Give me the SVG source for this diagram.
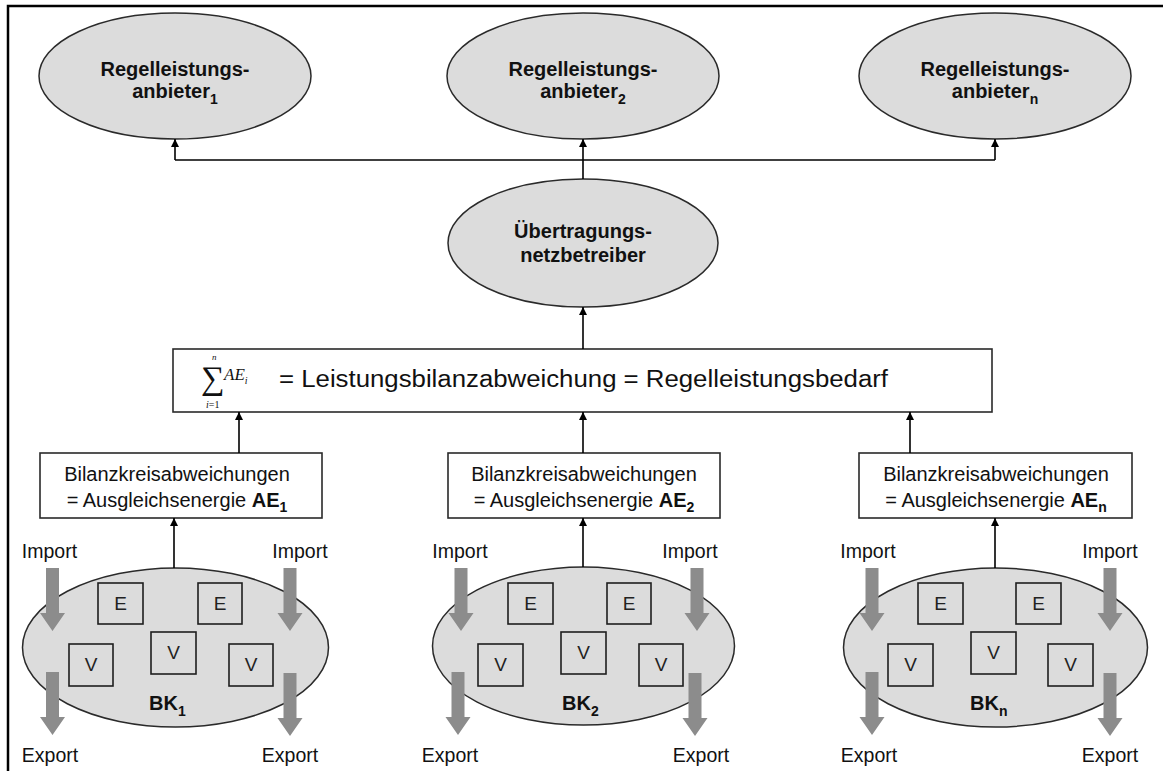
<svg xmlns="http://www.w3.org/2000/svg" xmlns:xlink="http://www.w3.org/1999/xlink" width="1163" height="771" viewBox="0 0 1163 771">
<style>
.ell{fill:#dcdcdc;stroke:#2a2a2a;stroke-width:1.5}
.box{fill:#fff;stroke:#2a2a2a;stroke-width:1.6}
.sq{fill:#dcdcdc;stroke:#1e1e1e;stroke-width:1.6}
.con{stroke:#000;stroke-width:1.6;fill:none}
.b{font-family:"Liberation Sans",Arial,sans-serif;font-weight:bold;font-size:20px;fill:#111;text-anchor:middle}
.r{font-family:"Liberation Sans",Arial,sans-serif;font-size:20px;fill:#111;text-anchor:middle}
.lbl{font-family:"Liberation Sans",Arial,sans-serif;font-size:19.5px;fill:#111;text-anchor:middle}
.sqt{font-family:"Liberation Sans",Arial,sans-serif;font-size:19px;fill:#222;text-anchor:middle}
.m{font-family:"Liberation Serif","Times New Roman",serif;fill:#111}
.ga{fill:#8c8c8c}
</style>
<defs>
<marker id="ah" viewBox="0 0 10 10" refX="10" refY="5" markerWidth="8" markerHeight="8" markerUnits="userSpaceOnUse" orient="auto">
<path d="M0,0 L10,5 L0,10 Z" fill="#000"/>
</marker>
<path id="garrow" d="M-6.5,0 H6.5 V45 H12.5 L0,63 L-12.5,45 H-6.5 Z"/>
</defs>
<rect x="8" y="6" width="1170" height="780" fill="none" stroke="#000" stroke-width="2.5"/>

<g id="rla1">
<ellipse class="ell" cx="175" cy="76" rx="136" ry="63"/>
<text class="b" x="175" y="76">Regelleistungs-</text>
<text class="b" x="175" y="98">anbieter<tspan font-size="14" dy="6">1</tspan></text>
</g>
<g id="rla2">
<ellipse class="ell" cx="583" cy="76" rx="136" ry="63"/>
<text class="b" x="583" y="76">Regelleistungs-</text>
<text class="b" x="583" y="98">anbieter<tspan font-size="14" dy="6">2</tspan></text>
</g>
<g id="rlan">
<ellipse class="ell" cx="995" cy="76" rx="136" ry="63"/>
<text class="b" x="995" y="76">Regelleistungs-</text>
<text class="b" x="995" y="98">anbieter<tspan font-size="14" dy="6">n</tspan></text>
</g>
<g id="uenb">
<ellipse class="ell" cx="583" cy="243" rx="135" ry="64"/>
<text class="b" x="583" y="238">Übertragungs-</text>
<text class="b" x="583" y="262">netzbetreiber</text>
</g>
<g id="summe">
<rect class="box" x="173" y="349" width="819" height="63"/>
<text class="m" x="201" y="389" font-size="33">∑</text>
<text class="m" x="212" y="360" font-size="9" font-style="italic">n</text>
<text class="m" x="206" y="408" font-size="10"><tspan font-style="italic">i</tspan>=1</text>
<text class="m" x="224" y="380" font-size="17" font-style="italic">AE<tspan font-size="10" dy="4">i</tspan></text>
<text x="279" y="387" font-family="Liberation Sans, Arial, sans-serif" font-size="23" fill="#111" textLength="609" lengthAdjust="spacingAndGlyphs">= Leistungsbilanzabweichung = Regelleistungsbedarf</text>
</g>
<g id="bka1">
<rect class="box" x="40" y="453" width="282" height="65"/>
<text class="r" x="177" y="481">Bilanzkreisabweichungen</text>
<text class="r" x="177" y="507">= Ausgleichsenergie <tspan font-weight="bold">AE</tspan><tspan font-weight="bold" font-size="14" dy="5">1</tspan></text>
</g>
<g id="bka2">
<rect class="box" x="448" y="453" width="272" height="65"/>
<text class="r" x="584" y="481">Bilanzkreisabweichungen</text>
<text class="r" x="584" y="507">= Ausgleichsenergie <tspan font-weight="bold">AE</tspan><tspan font-weight="bold" font-size="14" dy="5">2</tspan></text>
</g>
<g id="bkan">
<rect class="box" x="859" y="453" width="273" height="65"/>
<text class="r" x="996" y="481">Bilanzkreisabweichungen</text>
<text class="r" x="996" y="507">= Ausgleichsenergie <tspan font-weight="bold">AE</tspan><tspan font-weight="bold" font-size="14" dy="5">n</tspan></text>
</g>

<g id="bk1">
<ellipse class="ell" cx="175.5" cy="647.5" rx="153" ry="79.5"/>
<rect class="sq" x="98" y="583" width="45" height="41"/><text class="sqt" x="120.5" y="610">E</text>
<rect class="sq" x="198" y="583" width="44" height="41"/><text class="sqt" x="220" y="610">E</text>
<rect class="sq" x="151" y="632" width="45" height="42"/><text class="sqt" x="173.5" y="659">V</text>
<rect class="sq" x="69" y="644" width="44" height="42"/><text class="sqt" x="91" y="671">V</text>
<rect class="sq" x="229" y="644" width="44" height="42"/><text class="sqt" x="251" y="671">V</text>
<text class="b" x="149" y="710" style="text-anchor:start">BK<tspan font-size="14" dy="6">1</tspan></text>
<use href="#garrow" xlink:href="#garrow" class="ga" x="52.5" y="568"/>
<use href="#garrow" xlink:href="#garrow" class="ga" x="290" y="568"/>
<use href="#garrow" xlink:href="#garrow" class="ga" x="52.5" y="672"/>
<use href="#garrow" xlink:href="#garrow" class="ga" x="290" y="673"/>
<text class="lbl" x="49.5" y="558">Import</text>
<text class="lbl" x="300" y="558">Import</text>
<text class="lbl" x="50" y="762">Export</text>
<text class="lbl" x="290" y="762">Export</text>
</g>
<g id="bk2">
<ellipse class="ell" cx="583.5" cy="646" rx="151" ry="79"/>
<rect class="sq" x="508" y="583" width="45" height="41"/><text class="sqt" x="530.5" y="610">E</text>
<rect class="sq" x="607" y="583" width="44" height="41"/><text class="sqt" x="629" y="610">E</text>
<rect class="sq" x="561" y="632" width="45" height="42"/><text class="sqt" x="583.5" y="659">V</text>
<rect class="sq" x="478" y="644" width="45" height="42"/><text class="sqt" x="500.5" y="671">V</text>
<rect class="sq" x="639" y="644" width="44" height="42"/><text class="sqt" x="661" y="671">V</text>
<text class="b" x="562" y="710" style="text-anchor:start">BK<tspan font-size="14" dy="6">2</tspan></text>
<use href="#garrow" xlink:href="#garrow" class="ga" x="461" y="568"/>
<use href="#garrow" xlink:href="#garrow" class="ga" x="697" y="568"/>
<use href="#garrow" xlink:href="#garrow" class="ga" x="458" y="672"/>
<use href="#garrow" xlink:href="#garrow" class="ga" x="695" y="673"/>
<text class="lbl" x="460" y="558">Import</text>
<text class="lbl" x="690" y="558">Import</text>
<text class="lbl" x="450" y="762">Export</text>
<text class="lbl" x="701" y="762">Export</text>
</g>
<g id="bkn">
<ellipse class="ell" cx="995.5" cy="647.5" rx="152" ry="79.5"/>
<rect class="sq" x="918" y="583" width="45" height="41"/><text class="sqt" x="940.5" y="610">E</text>
<rect class="sq" x="1016" y="583" width="45" height="41"/><text class="sqt" x="1038.5" y="610">E</text>
<rect class="sq" x="971" y="632" width="45" height="42"/><text class="sqt" x="993.5" y="659">V</text>
<rect class="sq" x="888" y="644" width="45" height="42"/><text class="sqt" x="910.5" y="671">V</text>
<rect class="sq" x="1048" y="644" width="45" height="42"/><text class="sqt" x="1070.5" y="671">V</text>
<text class="b" x="970" y="710" style="text-anchor:start">BK<tspan font-size="14" dy="6">n</tspan></text>
<use href="#garrow" xlink:href="#garrow" class="ga" x="872" y="568"/>
<use href="#garrow" xlink:href="#garrow" class="ga" x="1110" y="568"/>
<use href="#garrow" xlink:href="#garrow" class="ga" x="872" y="672"/>
<use href="#garrow" xlink:href="#garrow" class="ga" x="1110" y="673"/>
<text class="lbl" x="868" y="558">Import</text>
<text class="lbl" x="1110" y="558">Import</text>
<text class="lbl" x="869" y="762">Export</text>
<text class="lbl" x="1110" y="762">Export</text>
</g>

<g id="connectors">
<path class="con" d="M175,160 H995"/>
<path class="con" d="M175,160 V139" marker-end="url(#ah)"/>
<path class="con" d="M583,179 V139" marker-end="url(#ah)"/>
<path class="con" d="M995,160 V139" marker-end="url(#ah)"/>
<path class="con" d="M583,349 V307" marker-end="url(#ah)"/>
<path class="con" d="M239,453 V412" marker-end="url(#ah)"/>
<path class="con" d="M583,453 V412" marker-end="url(#ah)"/>
<path class="con" d="M910,453 V412" marker-end="url(#ah)"/>
<path class="con" d="M174,568 V518" marker-end="url(#ah)"/>
<path class="con" d="M583,567 V518" marker-end="url(#ah)"/>
<path class="con" d="M995,568 V518" marker-end="url(#ah)"/>
</g>
</svg>
